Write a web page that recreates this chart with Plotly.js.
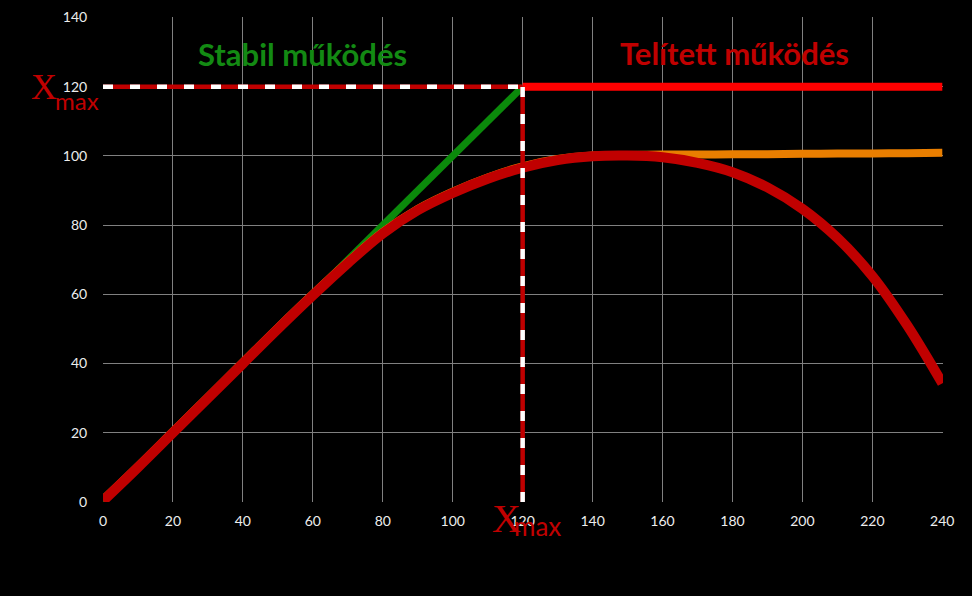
<!DOCTYPE html>
<html><head><meta charset="utf-8">
<script src="https://cdn.plot.ly/plotly-3.0.1.min.js"></script>
<style>html,body{margin:0;padding:0;background:#000;}#chart{width:972px;height:596px;}</style>
</head><body><div id="chart"></div>
<script>
// ---- data ----
const xCurve      = [0, 10, 20, 30, 40, 50, 60, 70, 80, 90, 100, 110, 120, 130, 140, 150, 160, 170, 180, 190, 200, 210, 220, 230, 240];
const redCurve    = [0.3, 10, 20, 30, 40, 50, 59.7, 69.0, 77.6, 84.3, 89.3, 93.4, 96.6, 98.8, 99.9, 100.1, 99.6, 98.0, 95.3, 90.9, 84.7, 76.3, 65.3, 51.0, 34.3];
const orangeCurve = [0.7, 10.4, 20.4, 30.4, 40.4, 50.4, 60.1, 69.4, 78.0, 84.7, 89.7, 93.8, 97.0, 99.1, 100.1, 100.3, 100.4, 100.4, 100.5, 100.5, 100.6, 100.7, 100.7, 100.8, 100.9];
const stableX     = [0, 120];
const stableY     = [0, 120];
const saturX      = [120, 240];
const saturY      = [120, 120];
const xmaxHX      = [0, 120];
const xmaxHY      = [120, 120];
const xmaxVX      = [120, 120];
const xmaxVY      = [0, 120];
const xTickVals   = [0, 20, 40, 60, 80, 100, 120, 140, 160, 180, 200, 220, 240];
const yTickVals   = [0, 20, 40, 60, 80, 100, 120, 140];
const labelStable = "Stabil működés";
const labelSatur  = "Telített működés";

const DARKRED = "#C00000";
const traces = [
  {x: stableX, y: stableY, mode: "lines", line: {color: "#0B8A0B", width: 7}},
  {x: xCurve, y: orangeCurve, mode: "lines", line: {color: "#E97E00", width: 8, shape: "spline"}},
  {x: xCurve, y: redCurve, mode: "lines", line: {color: DARKRED, width: 10, shape: "spline"}},
  {x: saturX, y: saturY, mode: "lines", line: {color: "#FF0000", width: 8}},
  {x: xmaxHX, y: xmaxHY, mode: "lines", line: {color: DARKRED, width: 4.5}},
  {x: xmaxHX, y: xmaxHY, mode: "lines", line: {color: "#FFFFFF", width: 4.5, dash: "10px,17px"}},
  {x: xmaxVX, y: xmaxVY, mode: "lines", line: {color: DARKRED, width: 4.5}},
  {x: xmaxVX, y: xmaxVY, mode: "lines", line: {color: "#FFFFFF", width: 4.5, dash: "10px,17px"}}
];

const FONT = "Lato, 'Open Sans', sans-serif";
const SERIF = "'Liberation Serif', 'DejaVu Serif', serif";
const layout = {
  width: 972, height: 596,
  paper_bgcolor: "#000", plot_bgcolor: "#000",
  showlegend: false,
  margin: {l: 103, r: 29, t: 17, b: 94},
  font: {family: FONT, color: "#EDEDED", size: 14},
  xaxis: {range: [0, 240.2], tickvals: xTickVals, showgrid: true, gridcolor: "#808080", gridwidth: 1,
          zeroline: false, showline: false, ticks: "outside", ticklen: 6, tickcolor: "rgba(0,0,0,0)",
          tickfont: {family: FONT, size: 14, color: "#EDEDED"}, fixedrange: true},
  yaxis: {range: [0, 140.15], tickvals: yTickVals, showgrid: true, gridcolor: "#808080", gridwidth: 1,
          zeroline: false, showline: false, ticks: "outside", ticklen: 12, tickcolor: "rgba(0,0,0,0)",
          tickfont: {family: FONT, size: 14, color: "#EDEDED"}, fixedrange: true},
  annotations: [
    {x: 57.1, y: 129.6, xref: "x", yref: "y", text: "<b>" + labelStable + "</b>", showarrow: false,
     xanchor: "center", yanchor: "middle", font: {family: FONT, size: 31, color: "#138A13"}},
    {x: 180.6, y: 129.7, xref: "x", yref: "y", text: "<b>" + labelSatur + "</b>", showarrow: false,
     xanchor: "center", yanchor: "middle", font: {family: FONT, size: 31, color: DARKRED}},
    {x: -0.0708, y: 0.8557, xref: "paper", yref: "paper", text: "X", showarrow: false,
     xanchor: "center", yanchor: "middle", font: {family: SERIF, size: 36, color: DARKRED}},
    {x: -0.031, y: 0.8287, xref: "paper", yref: "paper", text: "max", showarrow: false,
     xanchor: "center", yanchor: "middle", font: {family: FONT, size: 24, color: DARKRED}},
    {x: 0.4798, y: -0.0336, xref: "paper", yref: "paper", text: "X", showarrow: false,
     xanchor: "center", yanchor: "middle", font: {family: SERIF, size: 40, color: DARKRED}},
    {x: 0.5173, y: -0.0505, xref: "paper", yref: "paper", text: "max", showarrow: false,
     xanchor: "center", yanchor: "middle", font: {family: FONT, size: 26, color: DARKRED}}
  ]
};
Plotly.newPlot("chart", traces, layout, {displayModeBar: false, staticPlot: true});
</script>
</body></html>
